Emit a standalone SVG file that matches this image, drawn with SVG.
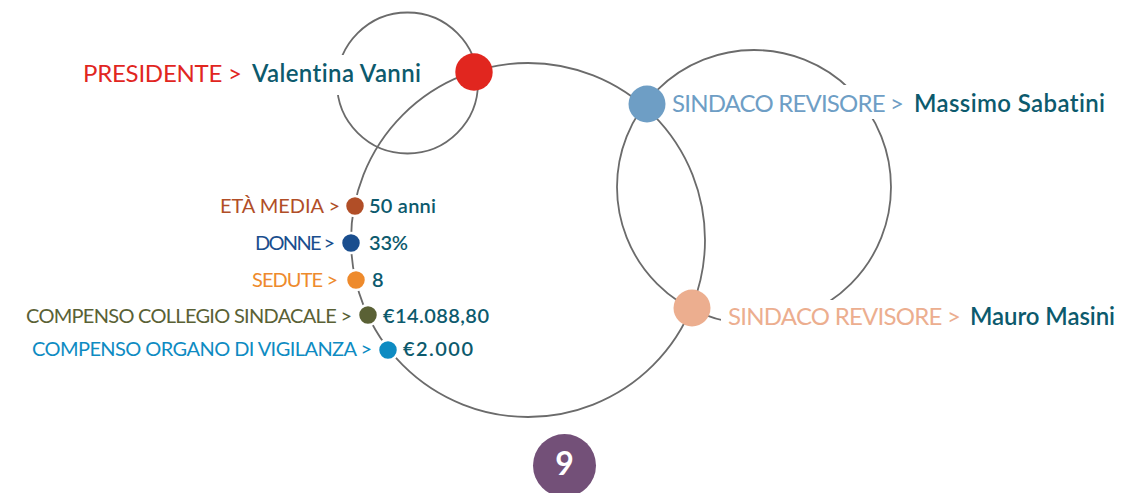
<svg xmlns="http://www.w3.org/2000/svg" width="1122" height="493" viewBox="0 0 1122 493">
<style>
  text { font-family: Lato, "Open Sans", "Liberation Sans", sans-serif; font-variant-ligatures: none; font-feature-settings: "liga" 0, "clig" 0; }
  .ring { fill: none; stroke: #6b6b6b; stroke-width: 1.8; }
  .bg { fill: #ffffff; }
  .big { font-size: 24px; }
  .small { font-size: 20px; }
  .name { fill: #0c5a6d; font-weight: 600; }
  .dot { stroke: #ffffff; stroke-width: 2.5; }
</style>
<rect width="1122" height="493" fill="#ffffff"/>
<g id="connectors">
  <circle class="ring" cx="407.5" cy="83" r="70.5"/>
  <circle class="ring" cx="528" cy="240" r="177"/>
  <circle class="ring" cx="754" cy="187" r="137"/>
</g>
<g id="presidente">
  <rect class="bg" x="80" y="55" width="264" height="40"/>
  <circle cx="474" cy="72" r="18.7" fill="#e1261f"/>
  <text class="big" x="83" y="82" fill="#e1261f" textLength="159">PRESIDENTE &gt;</text>
  <text class="big name" x="252" y="82" textLength="169">Valentina Vanni</text>
</g>
<g id="sindaco-sabatini">
  <rect class="bg" x="668" y="85" width="445" height="34"/>
  <circle cx="647" cy="104" r="18.5" fill="#6e9ec5"/>
  <text class="big" x="672" y="112" fill="#6e9ec5" textLength="232">SINDACO REVISORE &gt;</text>
  <text class="big name" x="914" y="112" textLength="191">Massimo Sabatini</text>
</g>
<g id="sindaco-masini">
  <rect class="bg" x="721" y="300" width="401" height="35"/>
  <circle cx="692" cy="308" r="18.5" fill="#ecae8f"/>
  <text class="big" x="728" y="325" fill="#ecae8f" textLength="233">SINDACO REVISORE &gt;</text>
  <text class="big name" x="970" y="325" textLength="145">Mauro Masini</text>
</g>
<g id="eta-media">
  <circle class="dot" cx="355" cy="206" r="10" fill="#b14e27"/>
  <text class="small" x="220" y="213" fill="#b14e27" textLength="120">ETÀ MEDIA &gt;</text>
  <text class="small name" x="369" y="213" textLength="67">50 anni</text>
</g>
<g id="donne">
  <circle class="dot" cx="351" cy="243" r="10" fill="#1a4e8e"/>
  <text class="small" x="255" y="250" fill="#1a4e8e" textLength="80">DONNE &gt;</text>
  <text class="small name" x="369" y="250" textLength="39">33%</text>
</g>
<g id="sedute">
  <circle class="dot" cx="356" cy="280" r="10" fill="#ee8a2c"/>
  <text class="small" x="252" y="287" fill="#ee8a2c" textLength="86">SEDUTE &gt;</text>
  <text class="small name" x="372" y="287">8</text>
</g>
<g id="compenso-collegio">
  <circle class="dot" cx="368" cy="315" r="10" fill="#5a6135"/>
  <text class="small" x="26" y="322.5" fill="#5a6135" textLength="326">COMPENSO COLLEGIO SINDACALE &gt;</text>
  <text class="small name" x="383" y="322.5" textLength="106">€14.088,80</text>
</g>
<g id="compenso-vigilanza">
  <circle class="dot" cx="388" cy="350" r="10" fill="#0e8bc2"/>
  <text class="small" x="32" y="356" fill="#0e8bc2" textLength="340">COMPENSO ORGANO DI VIGILANZA &gt;</text>
  <text class="small name" x="403" y="356" textLength="70">€2.000</text>
</g>
<g id="page-number">
  <circle cx="564.5" cy="465.5" r="31.5" fill="#735078"/>
  <text x="564.5" y="475" font-size="32" font-weight="bold" fill="#ffffff" text-anchor="middle">9</text>
</g>
</svg>
